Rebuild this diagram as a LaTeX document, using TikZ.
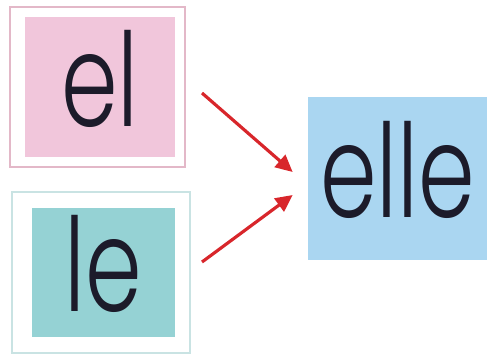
\documentclass[tikz,border=0pt]{standalone}
\usepackage{fontspec}
\usetikzlibrary{arrows.meta,positioning,calc}
\newfontfamily\kidfont[FakeStretch=0.7]{Poppins Light}
\definecolor{pinkfill}{HTML}{F1C6DB}
\definecolor{pinkline}{HTML}{E3B8C8}
\definecolor{tealfill}{HTML}{95D2D4}
\definecolor{tealline}{HTML}{C9E3E3}
\definecolor{bluefill}{HTML}{AAD6F1}
\definecolor{arrowred}{HTML}{D8262B}
\definecolor{inkdark}{HTML}{1C1B2A}

\begin{document}
\begin{tikzpicture}[x=0.02cm, y=-0.02cm,
  frame/.style={rectangle, draw=#1, line width=1.6pt, inner sep=0pt},
  card/.style={rectangle, fill=#1, inner sep=0pt, text depth=0.36cm, text=inkdark, font=\kidfont\fontsize{74}{74}\selectfont},
  arr/.style={-{Triangle[length=3.4mm, width=3.2mm]}, line width=1.8pt, arrowred}
]
  \useasboundingbox (0,0) rectangle (491,360);
  % left cards
  \node[frame=pinkline, minimum width=3.5cm, minimum height=3.2cm] (elframe) at (97.5,87) {};
  \node[card=pinkfill, minimum width=3.0cm, minimum height=2.8cm] (el) at (100,87) {el};
  \node[frame=tealline, minimum width=3.56cm, minimum height=3.22cm] (leframe) at (101,272.5) {};
  \node[card=tealfill, minimum width=2.86cm, minimum height=2.58cm] (le) at (103.5,272.5) {le};
  % result card
  \node[card=bluefill, minimum width=3.58cm, minimum height=3.26cm] (elle) at (397.5,178.5) {elle};
  % arrows
  \coordinate (from1) at (202,93);
  \coordinate (from2) at (202,262);
  \draw[arr] (from1) -- ([xshift=-0.3cm, yshift=0.13cm]elle.west);
  \draw[arr] (from2) -- ([xshift=-0.3cm, yshift=-0.33cm]elle.west);
\end{tikzpicture}
\end{document}
